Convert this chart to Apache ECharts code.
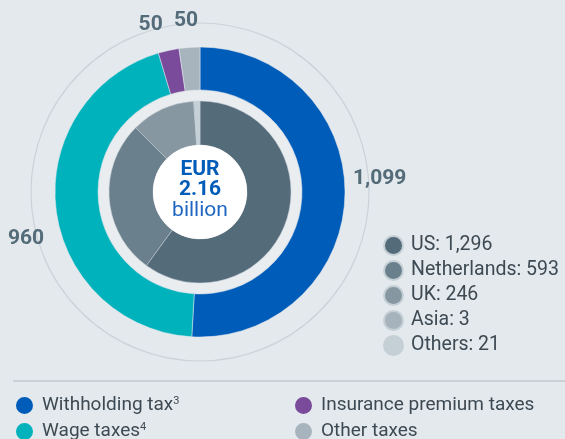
<!DOCTYPE html>
<html>
<head>
    <meta charset="utf-8" />
    <title>Tax contribution</title>
    <script src="https://cdn.jsdelivr.net/npm/echarts@6/dist/echarts.min.js"></script>
    <style>
        *{
            margin:0;
            padding:0;
        }
        body{
            background:#e4e9ed;
        }
        #main{
            width:565px;
            height:439px;
        }
    </style>
</head>
<body>
<div id="main"></div>
<script type="text/javascript">
    // 外环：税种
    var taxNames = ['Withholding tax', 'Wage taxes', 'Insurance premium taxes', 'Other taxes'];
    var taxValues = [1099, 960, 50, 50];
    var taxSup = ['3', '4', '', ''];
    var taxColors = ['#005cb9', '#00b2bc', '#7a4a9b', '#a7b4bd'];

    // 内环：地区
    var regionNames = ['US', 'Netherlands', 'UK', 'Asia', 'Others'];
    var regionValues = [1296, 593, 246, 3, 21];
    var regionColors = ['#546b79', '#6b808d', '#8797a2', '#a6b3bc', '#c5cfd6'];

    var totalText = ['EUR', '2.16', 'billion'];

    // 外环数值标签的微调偏移
    var labelShift = [[-15, -18], [11, 28], [3, -8], [15, -9]];

    var font = "Roboto, sans-serif";
    var textColor = '#3d4a53';
    var cx = 200, cy = 192;

    function fmt(v){
        return v.toString().replace(/\B(?=(\d{3})+(?!\d))/g, ',');
    }

    var myChart = echarts.init(document.getElementById('main'));

    var option = {
        backgroundColor: '#e4e9ed',
        animation: false,
        graphic: [
            // 外圈细线
            {type: 'circle', shape: {cx: cx, cy: cy, r: 169}, style: {fill: 'none', stroke: '#cbd3d9', lineWidth: 1.2}, z: 0},
            // 两环之间的浅色带
            {type: 'circle', shape: {cx: cx, cy: cy, r: 101}, style: {fill: '#e9edf0'}, z: 0},
            // 中心白圆
            {type: 'circle', shape: {cx: cx, cy: cy, r: 47}, style: {fill: '#ffffff'}, z: 10},
            {type: 'text', x: cx, y: 159, z: 11, style: {text: totalText[0], font: 'bold 21px ' + font, fill: '#005cb9', align: 'center'}},
            {type: 'text', x: cx, y: 179, z: 11, style: {text: totalText[1], font: 'bold 21px ' + font, fill: '#005cb9', align: 'center'}},
            {type: 'text', x: cx, y: 200, z: 11, style: {text: totalText[2], font: '21px ' + font, fill: '#1f66c2', align: 'center'}},
            // 底部分隔线
            {type: 'rect', shape: {x: 13, y: 380, width: 552, height: 2}, style: {fill: '#c9d1d7'}}
        ],
        legend: [
            {
                data: regionNames,
                orient: 'vertical',
                left: 378, top: 230,
                icon: 'circle', itemWidth: 19, itemHeight: 19, itemGap: 4,
                textStyle: {fontFamily: font, fontSize: 19.5, lineHeight: 19, color: textColor, padding: [0, 0, 0, 3]},
                formatter: function(name){
                    return name + ': ' + fmt(regionValues[regionNames.indexOf(name)]);
                },
                selectedMode: false
            },
            {
                data: taxNames.slice(0, 2),
                orient: 'vertical',
                left: 9, top: 390, height: 50,
                icon: 'circle', itemWidth: 19, itemHeight: 19, itemGap: 5,
                textStyle: {fontFamily: font, fontSize: 19, lineHeight: 19, color: textColor, padding: [0, 0, 0, 3],
                    rich: {sup: {fontFamily: font, fontSize: 11, color: textColor, verticalAlign: 'top', padding: [0, 0, 8, 0]}}},
                formatter: function(name){
                    var s = taxSup[taxNames.indexOf(name)];
                    return s ? name + '{sup|' + s + '}' : name;
                },
                selectedMode: false
            },
            {
                data: taxNames.slice(2),
                orient: 'vertical',
                left: 288, top: 390, height: 50,
                icon: 'circle', itemWidth: 19, itemHeight: 19, itemGap: 5,
                textStyle: {fontFamily: font, fontSize: 19, lineHeight: 19, color: textColor, padding: [0, 0, 0, 3]},
                selectedMode: false
            }
        ],
        series: [
            {
                name: 'Taxes',
                type: 'pie',
                center: [cx, cy],
                radius: [102, 145],
                startAngle: 90,
                clockwise: true,
                silent: true,
                avoidLabelOverlap: false,
                itemStyle: {borderColor: '#e4e9ed', borderWidth: 0.5},
                label: {
                    show: true,
                    position: 'outside',
                    formatter: function(p){ return fmt(p.value); },
                    fontFamily: font,
                    fontWeight: 'bold',
                    fontSize: 21,
                    color: '#546b79'
                },
                labelLine: {show: false, length: 18, length2: 0},
                labelLayout: function(p){
                    var s = labelShift[p.dataIndex];
                    return {dx: s[0], dy: s[1]};
                },
                data: taxNames.map(function(n, i){
                    return {name: n, value: taxValues[i], itemStyle: {color: taxColors[i]}};
                })
            },
            {
                name: 'Regions',
                type: 'pie',
                center: [cx, cy],
                radius: [47, 91],
                startAngle: 90,
                clockwise: true,
                silent: true,
                itemStyle: {borderColor: '#c5cfd6', borderWidth: 0.5},
                label: {show: false},
                data: regionNames.map(function(n, i){
                    return {name: n, value: regionValues[i], itemStyle: {color: regionColors[i]}};
                })
            }
        ]
    };

    myChart.setOption(option);
    window.onresize = myChart.resize;
</script>
</body>
</html>
